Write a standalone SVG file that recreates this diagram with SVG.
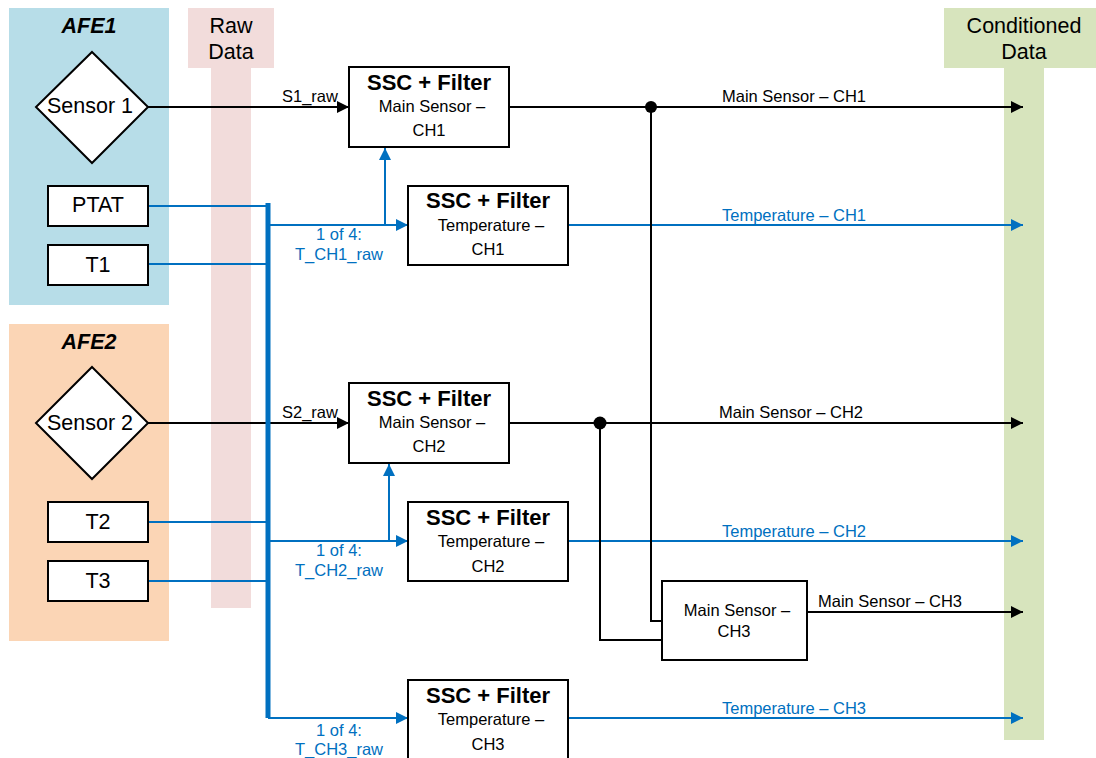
<svg xmlns="http://www.w3.org/2000/svg" width="1096" height="758" viewBox="0 0 1096 758">
<style>
text{font-family:"Liberation Sans",Arial,sans-serif;fill:#000}
.big{font-size:21.5px}
.hdr{font-size:21.5px;font-weight:bold;font-style:italic}
.ssc{font-size:22px;font-weight:bold}
.sub{font-size:16.5px}
.lbl{font-size:16.5px}
.blu{fill:#0070c0}
.box{fill:#fff;stroke:#000;stroke-width:2}
.k{fill:none;stroke:#000;stroke-width:2}
.b{fill:none;stroke:#0070c0;stroke-width:2}
.bus{fill:none;stroke:#0070c0;stroke-width:5}
</style>
<defs>
<marker id="ak" markerUnits="userSpaceOnUse" markerWidth="13" markerHeight="13" refX="12" refY="6" orient="auto"><path d="M0,0 L12,6 L0,12 z" fill="#000"/></marker>
<marker id="ab" markerUnits="userSpaceOnUse" markerWidth="13" markerHeight="13" refX="12" refY="6" orient="auto"><path d="M0,0 L12,6 L0,12 z" fill="#0070c0"/></marker>
</defs>
<g id="panels">
<rect x="9" y="8" width="160" height="297" fill="#b7dde8"/>
<rect x="9" y="324" width="160" height="317" fill="#fbd5b5"/>
<rect x="188" y="8" width="86" height="60" fill="#f2dcdb"/>
<rect x="211" y="67" width="40" height="541" fill="#f2dcdb"/>
<rect x="944" y="8" width="152" height="60" fill="#d7e4bd"/>
<rect x="1004" y="67" width="40" height="673" fill="#d7e4bd"/>
<text class="hdr" x="89" y="33" text-anchor="middle">AFE1</text>
<text class="hdr" x="89" y="349" text-anchor="middle">AFE2</text>
<text class="big" x="231" y="33" text-anchor="middle">Raw</text>
<text class="big" x="231" y="59" text-anchor="middle">Data</text>
<text class="big" x="1024" y="33" text-anchor="middle">Conditioned</text>
<text class="big" x="1024" y="59" text-anchor="middle">Data</text>
</g>
<g id="connectors">
<path class="k" d="M148,107 H349" marker-end="url(#ak)"/>
<path class="k" d="M148,423 H349" marker-end="url(#ak)"/>
<path class="b" d="M148,206 H268 M148,264 H268 M148,522 H268 M148,581 H268"/>
<path class="bus" d="M268,203 V718"/>
<path class="b" d="M268,225 H408" marker-end="url(#ab)"/>
<path class="b" d="M385,225 V148" marker-end="url(#ab)"/>
<path class="b" d="M268,541 H408" marker-end="url(#ab)"/>
<path class="b" d="M389,541 V464" marker-end="url(#ab)"/>
<path class="b" d="M268,718 H408" marker-end="url(#ab)"/>
<path class="k" d="M509,107 H1023" marker-end="url(#ak)"/>
<path class="k" d="M509,423 H1023" marker-end="url(#ak)"/>
<path class="k" d="M807,612 H1023" marker-end="url(#ak)"/>
<path class="b" d="M568,225 H1023" marker-end="url(#ab)"/>
<path class="b" d="M568,541 H1023" marker-end="url(#ab)"/>
<path class="b" d="M568,718 H1023" marker-end="url(#ab)"/>
<path class="k" d="M651,107 V621 H662"/>
<path class="k" d="M600,423 V640 H662"/>
<circle cx="651" cy="107" r="6" fill="#000"/>
<circle cx="600" cy="423" r="6.5" fill="#000"/>
<text class="lbl" x="310" y="102" text-anchor="middle">S1_raw</text>
<text class="lbl" x="310" y="418" text-anchor="middle">S2_raw</text>
<text class="lbl blu" x="339" y="240" text-anchor="middle">1 of 4:</text>
<text class="lbl blu" x="339" y="260" text-anchor="middle">T_CH1_raw</text>
<text class="lbl blu" x="339" y="556" text-anchor="middle">1 of 4:</text>
<text class="lbl blu" x="339" y="576" text-anchor="middle">T_CH2_raw</text>
<text class="lbl blu" x="339" y="736" text-anchor="middle">1 of 4:</text>
<text class="lbl blu" x="339" y="755" text-anchor="middle">T_CH3_raw</text>
<text class="lbl" x="722" y="102">Main Sensor – CH1</text>
<text class="lbl blu" x="722" y="221">Temperature – CH1</text>
<text class="lbl" x="719" y="418">Main Sensor – CH2</text>
<text class="lbl blu" x="722" y="537">Temperature – CH2</text>
<text class="lbl" x="818" y="607">Main Sensor – CH3</text>
<text class="lbl blu" x="722" y="714">Temperature – CH3</text>
</g>
<g id="sensor1">
<path class="box" d="M92,52 L148,107 L92,163 L36,107 z"/>
<text class="big" x="90" y="113" text-anchor="middle">Sensor 1</text>
</g>
<g id="sensor2">
<path class="box" d="M92,367 L148,423 L92,479 L36,423 z"/>
<text class="big" x="90" y="430" text-anchor="middle">Sensor 2</text>
</g>
<g id="ptat"><rect class="box" x="48" y="186" width="100" height="40"/><text class="big" x="98" y="212" text-anchor="middle">PTAT</text></g>
<g id="t1"><rect class="box" x="48" y="245" width="100" height="40"/><text class="big" x="98" y="272" text-anchor="middle">T1</text></g>
<g id="t2"><rect class="box" x="48" y="502" width="100" height="40"/><text class="big" x="98" y="529" text-anchor="middle">T2</text></g>
<g id="t3"><rect class="box" x="48" y="561" width="100" height="40"/><text class="big" x="98" y="588" text-anchor="middle">T3</text></g>
<g id="ssc-main-ch1"><rect class="box" x="349" y="67" width="160" height="80"/>
<text class="ssc" x="429" y="90" text-anchor="middle">SSC + Filter</text>
<text class="sub" x="432" y="112" text-anchor="middle">Main Sensor –</text>
<text class="sub" x="429" y="136" text-anchor="middle">CH1</text></g>
<g id="ssc-temp-ch1"><rect class="box" x="408" y="186" width="160" height="79"/>
<text class="ssc" x="488" y="208" text-anchor="middle">SSC + Filter</text>
<text class="sub" x="491" y="231" text-anchor="middle">Temperature –</text>
<text class="sub" x="488" y="255" text-anchor="middle">CH1</text></g>
<g id="ssc-main-ch2"><rect class="box" x="349" y="383" width="160" height="80"/>
<text class="ssc" x="429" y="406" text-anchor="middle">SSC + Filter</text>
<text class="sub" x="432" y="428" text-anchor="middle">Main Sensor –</text>
<text class="sub" x="429" y="452" text-anchor="middle">CH2</text></g>
<g id="ssc-temp-ch2"><rect class="box" x="408" y="502" width="160" height="79"/>
<text class="ssc" x="488" y="525" text-anchor="middle">SSC + Filter</text>
<text class="sub" x="491" y="547" text-anchor="middle">Temperature –</text>
<text class="sub" x="488" y="572" text-anchor="middle">CH2</text></g>
<g id="main-ch3"><rect class="box" x="662" y="581" width="145" height="79"/>
<text class="sub" x="737" y="616" text-anchor="middle">Main Sensor –</text>
<text class="sub" x="734" y="637" text-anchor="middle">CH3</text></g>
<g id="ssc-temp-ch3"><rect class="box" x="408" y="680" width="160" height="90"/>
<text class="ssc" x="488" y="703" text-anchor="middle">SSC + Filter</text>
<text class="sub" x="491" y="725" text-anchor="middle">Temperature –</text>
<text class="sub" x="488" y="750" text-anchor="middle">CH3</text></g>
</svg>
